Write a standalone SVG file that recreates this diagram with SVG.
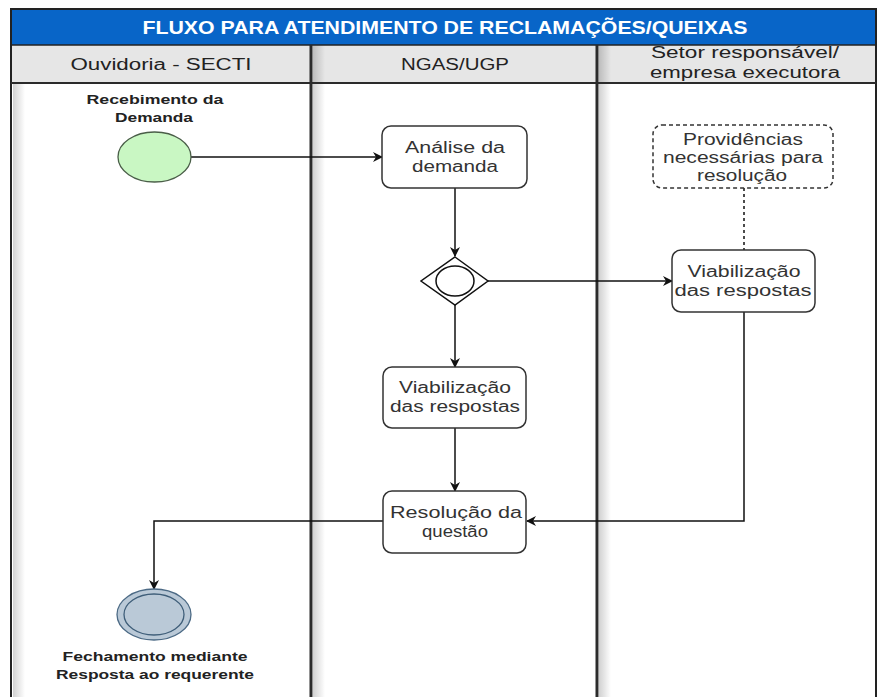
<svg xmlns="http://www.w3.org/2000/svg" width="878" height="697" viewBox="0 0 878 697">
<defs>
<style>
.t{font-family:"Liberation Sans",Arial,sans-serif;fill:#333;text-anchor:middle}
.box{fill:#fff;stroke:#333;stroke-width:1.5}
.lbl{font-size:16px}
.sm{font-size:12px;font-weight:bold;fill:#222}
.hd{font-size:16px;fill:#222}
.c{fill:none;stroke:#111;stroke-width:1.5}
.lane{stroke:#2b2b2b;stroke-width:3}
</style>
<linearGradient id="sh" x1="0" x2="1" y1="0" y2="0">
<stop offset="0" stop-color="#000" stop-opacity="0.18"/>
<stop offset="1" stop-color="#000" stop-opacity="0"/>
</linearGradient>
<marker id="ah" markerWidth="10" markerHeight="10" refX="9" refY="5" orient="auto" markerUnits="userSpaceOnUse">
<path d="M0,0 L10,5 L0,10 L3,5 Z" fill="#111"/>
</marker>
</defs>
<rect width="878" height="697" fill="#fff"/>
<g id="pool">
<rect x="11" y="9" width="865" height="36" fill="#0865c8"/>
<text class="t" x="445" y="34" font-size="18" font-weight="bold" fill="#fff" style="fill:#fff" textLength="605" lengthAdjust="spacingAndGlyphs">FLUXO PARA ATENDIMENTO DE RECLAMAÇÕES/QUEIXAS</text>
<rect x="11" y="45" width="865" height="38" fill="#e6e6e6"/>
<text class="t hd" x="161" y="70" textLength="181" lengthAdjust="spacingAndGlyphs">Ouvidoria - SECTI</text>
<text class="t hd" x="455" y="70" textLength="108" lengthAdjust="spacingAndGlyphs">NGAS/UGP</text>
<text class="t hd" x="745" y="58" textLength="188" lengthAdjust="spacingAndGlyphs">Setor responsável/</text>
<text class="t hd" x="745" y="78" textLength="190" lengthAdjust="spacingAndGlyphs">empresa executora</text>
<rect x="13" y="84" width="12" height="613" fill="url(#sh)"/>
<rect x="313" y="45" width="12" height="652" fill="url(#sh)"/>
<rect x="599" y="45" width="12" height="652" fill="url(#sh)"/>
<rect x="11" y="9" width="865" height="700" fill="none" stroke="#222" stroke-width="2"/>
<line x1="11" y1="45" x2="876" y2="45" stroke="#222" stroke-width="1.5"/>
<line x1="11" y1="83" x2="876" y2="83" stroke="#2b2b2b" stroke-width="2"/>
<line class="lane" x1="311" y1="45" x2="311" y2="697"/>
<line class="lane" x1="597" y1="45" x2="597" y2="697"/>
</g>
<g id="connectors">
<path class="c" d="M191,157 H382" marker-end="url(#ah)"/>
<path class="c" d="M455,188 V256" marker-end="url(#ah)"/>
<path class="c" d="M488,281 H672" marker-end="url(#ah)"/>
<path class="c" d="M455,304 V367" marker-end="url(#ah)"/>
<path class="c" d="M744,188 V250" stroke-dasharray="3,3"/>
<path class="c" d="M744,312 V521 H527" marker-end="url(#ah)"/>
<path class="c" d="M455,428 V491" marker-end="url(#ah)"/>
<path class="c" d="M383,521 H154 V589" marker-end="url(#ah)"/>
</g>
<g id="start">
<ellipse cx="154.5" cy="157" rx="36.5" ry="25" fill="#c9f7c3" stroke="#4a5e48" stroke-width="1.3"/>
<text class="t sm" x="155" y="104" textLength="137" lengthAdjust="spacingAndGlyphs">Recebimento da</text>
<text class="t sm" x="154" y="122" textLength="78" lengthAdjust="spacingAndGlyphs">Demanda</text>
</g>
<g id="analise">
<rect class="box" x="382" y="126" width="145" height="62" rx="9"/>
<text class="t lbl" x="455" y="153" textLength="100" lengthAdjust="spacingAndGlyphs">Análise da</text>
<text class="t lbl" x="455" y="172" textLength="86" lengthAdjust="spacingAndGlyphs">demanda</text>
</g>
<g id="gateway">
<path d="M455,257 L488,281 L455,305 L421,281 Z" fill="#fff" stroke="#111" stroke-width="1.5"/>
<ellipse cx="455" cy="281" rx="19" ry="15" fill="none" stroke="#111" stroke-width="1.5"/>
</g>
<g id="providencias">
<rect x="653" y="125" width="180" height="63" rx="9" fill="#fff" stroke="#333" stroke-width="1.5" stroke-dasharray="4,3"/>
<text class="t lbl" x="743" y="145" textLength="120" lengthAdjust="spacingAndGlyphs">Providências</text>
<text class="t lbl" x="743" y="163" textLength="160" lengthAdjust="spacingAndGlyphs">necessárias para</text>
<text class="t lbl" x="742" y="181" textLength="90" lengthAdjust="spacingAndGlyphs">resolução</text>
</g>
<g id="viab2">
<rect class="box" x="672" y="250" width="143" height="62" rx="9"/>
<text class="t lbl" x="744" y="277" textLength="113" lengthAdjust="spacingAndGlyphs">Viabilização</text>
<text class="t lbl" x="743" y="296" textLength="137" lengthAdjust="spacingAndGlyphs">das respostas</text>
</g>
<g id="viab1">
<rect class="box" x="383" y="367" width="143" height="61" rx="9"/>
<text class="t lbl" x="455" y="393" textLength="112" lengthAdjust="spacingAndGlyphs">Viabilização</text>
<text class="t lbl" x="455" y="412" textLength="130" lengthAdjust="spacingAndGlyphs">das respostas</text>
</g>
<g id="resolucao">
<rect class="box" x="383" y="491" width="143" height="62" rx="9"/>
<text class="t lbl" x="456" y="518" textLength="132" lengthAdjust="spacingAndGlyphs">Resolução da</text>
<text class="t lbl" x="455" y="537" textLength="66" lengthAdjust="spacingAndGlyphs">questão</text>
</g>
<g id="end">
<ellipse cx="154" cy="614.5" rx="37" ry="25.5" fill="#bac9d7" stroke="#4c6a85" stroke-width="1.3"/>
<ellipse cx="154" cy="614.5" rx="30" ry="20.5" fill="none" stroke="#3f5e79" stroke-width="1.3"/>
<text class="t sm" x="155" y="661" textLength="185" lengthAdjust="spacingAndGlyphs">Fechamento mediante</text>
<text class="t sm" x="155" y="679" textLength="198" lengthAdjust="spacingAndGlyphs">Resposta ao requerente</text>
</g>
</svg>
